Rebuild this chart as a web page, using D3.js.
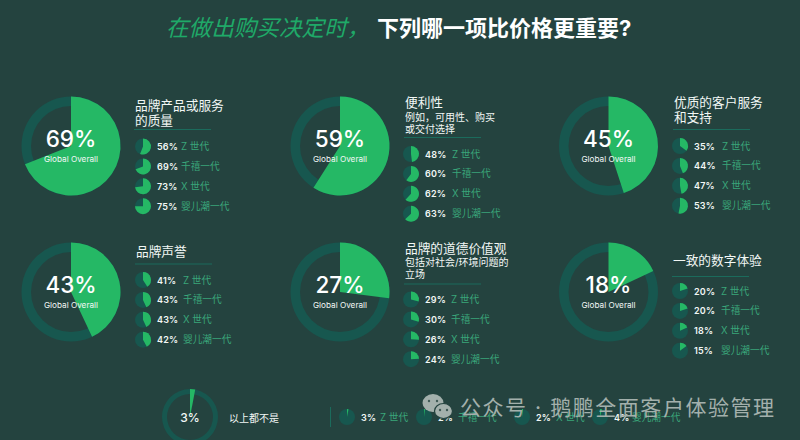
<!DOCTYPE html>
<html lang="zh">
<head>
<meta charset="utf-8">
<script src="https://cdn.jsdelivr.net/npm/d3@7/dist/d3.min.js"></script>
<style>
html,body{margin:0;padding:0;background:#24433f;overflow:hidden}
text{font-family:Inter,"Noto Sans CJK SC",sans-serif}
</style>
</head>
<body>
<svg id="chart" width="800" height="440"></svg>
<script>
const generations = ["Z 世代", "千禧一代", "X 世代", "婴儿潮一代"];
const overallValues = [69, 59, 45, 43, 27, 18];
const noneOverall = 3;
const noneTitle = "以上都不是";
const panelTitles = [
  ["品牌产品或服务", "的质量"], ["便利性"], ["优质的客户服务", "和支持"],
  ["品牌声誉"], ["品牌的道德价值观"], ["一致的数字体验"]
];
const panelSubtitles = [[], ["例如，可用性、购买", "或交付选择"], [], [], ["包括对社会/环境问题的", "立场"], []];
const genValues = [
  [56, 69, 73, 75], [48, 60, 62, 63], [35, 44, 47, 53],
  [41, 43, 43, 42], [29, 30, 26, 24], [20, 20, 18, 15]
];
const noneGenValues = [3, 2, 2, 4];
const chartTitleGreen = "在做出购买决定时，";
const chartTitleWhite = "下列哪一项比价格更重要?";
const watermark = "公众号 · 鹅鹏全面客户体验管理";

const colors = {ring:"#17574f", green:"#25b865", white:"#f2f7f5", label:"#3aa67a", rule:"#1b6b5c", title:"#1fa968", mark:"#a3b0ac"};
// layout
const donutCx = [71, 340, 608.5, 71, 340, 608.5];
const donutCy = [146, 146, 146, 292, 292, 292];
const titleX  = [135, 405, 674, 136, 405, 673];
const titleY  = [110, 107, 107, 256, 253, 265];
const ruleY   = [129.5, 137.5, 129.5, 264, 284, 276.5];
const miniX   = [143, 411, 680, 143, 411, 680];
const miniY   = [146.5, 154, 146, 280, 299.5, 291];
const labelDx = [38, 41, 42, 40, 40, 41];
const subY    = [[], [121, 133], [], [], [266, 278], []];

const svg = d3.select("#chart");
svg.append("rect").attr("width",800).attr("height",440).attr("fill","#24433f");

const pie = d3.pie().sort(null).value(d => d);
function wedge(g, cx, cy, value, rOuter, rInner){
  const arcs = pie([value, 100 - value]);
  const node = g.append("g").attr("transform",`translate(${cx},${cy})`);
  node.append("path")
    .attr("d", d3.arc().innerRadius(rInner).outerRadius(rOuter)({startAngle:0,endAngle:2*Math.PI}))
    .attr("fill", colors.ring);
  node.append("path")
    .attr("d", d3.arc().innerRadius(0).outerRadius(rOuter)(arcs[0]))
    .attr("fill", colors.green);
}
function miniRow(g, x, y, value, gen, pctX, labX){
  wedge(g, x, y, value, 8, 0);
  g.append("text").attr("x",pctX).attr("y",y+3.5).attr("font-size",9).attr("font-weight",600)
    .attr("letter-spacing",0.2).attr("fill",colors.white).text(value+"%");
  g.append("text").attr("x",labX).attr("y",y+3.5).attr("font-size",9.7)
    .attr("fill",colors.label).text(gen);
}

// chart title
svg.append("text").attr("x",166).attr("y",35.5).attr("font-size",22.6).attr("font-style","italic")
  .attr("fill",colors.title).text(chartTitleGreen);
svg.append("text").attr("x",377).attr("y",35.5).attr("font-size",22).attr("font-weight",700)
  .attr("fill","#ffffff").text(chartTitleWhite);

// panels
overallValues.forEach((v,i)=>{
  const g = svg.append("g");
  wedge(g, donutCx[i], donutCy[i], v, 49.5, 40);
  g.append("text").attr("x",donutCx[i]).attr("y",donutCy[i]+1).attr("text-anchor","middle")
    .attr("font-size",22.5).attr("font-weight",500).attr("fill","#fff").text(v+"%");
  g.append("text").attr("x",donutCx[i]).attr("y",donutCy[i]+16).attr("text-anchor","middle")
    .attr("font-size",8.2).attr("fill",colors.white).text("Global Overall");
  panelTitles[i].forEach((t,k)=>{
    g.append("text").attr("x",titleX[i]).attr("y",titleY[i]+k*15).attr("font-size",12.7)
      .attr("fill",colors.white).text(t);
  });
  panelSubtitles[i].forEach((t,k)=>{
    g.append("text").attr("x",titleX[i]).attr("y",subY[i][k]).attr("font-size",10)
      .attr("fill",colors.white).text(t);
  });
  g.append("line").attr("x1",titleX[i]-1).attr("x2",titleX[i]+76).attr("y1",ruleY[i]).attr("y2",ruleY[i])
    .attr("stroke",colors.rule).attr("stroke-width",1);
  genValues[i].forEach((gv,k)=>{
    miniRow(g, miniX[i], miniY[i]+k*19.9, gv, generations[k], miniX[i]+14, miniX[i]+labelDx[i]);
  });
});

// bottom row
const bottom = svg.append("g");
wedge(bottom, 190, 417, noneOverall, 28, 23);
bottom.append("text").attr("x",190).attr("y",421.5).attr("text-anchor","middle").attr("font-size",12)
  .attr("font-weight",500).attr("fill",colors.white).text(noneOverall+"%");
bottom.append("text").attr("x",229).attr("y",421.5).attr("font-size",10).attr("fill",colors.white).text(noneTitle);
bottom.append("line").attr("x1",330.5).attr("x2",330.5).attr("y1",407).attr("y2",427).attr("stroke",colors.rule);
const bottomMiniX = [347, 424, 522, 600];
const bottomLabelX = [380, 458, 556, 632];
noneGenValues.forEach((v,k)=>{
  miniRow(bottom, bottomMiniX[k], 417, v, generations[k], bottomMiniX[k]+14, bottomLabelX[k]);
});

// watermark
const wm = svg.append("g").attr("fill",colors.mark);
wm.append("ellipse").attr("cx",433).attr("cy",403).attr("rx",10.5).attr("ry",9);
wm.append("ellipse").attr("cx",443.5).attr("cy",411).attr("rx",9).attr("ry",7.5).attr("stroke","#24433f").attr("stroke-width",1.2);
[[429,401],[437,401],[440,410],[447,410]].forEach(p=>{
  wm.append("circle").attr("cx",p[0]).attr("cy",p[1]).attr("r",1.2).attr("fill","#3f5a55");
});
wm.append("text").attr("x",460).attr("y",415).attr("font-size",21).attr("letter-spacing",1.55).text(watermark);
</script>
</body>
</html>
